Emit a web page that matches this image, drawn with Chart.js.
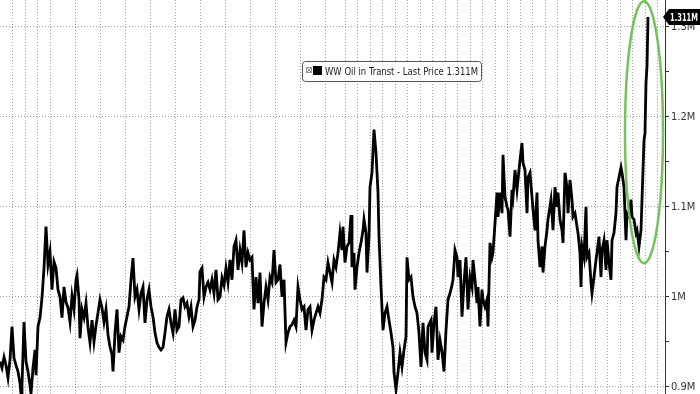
<!DOCTYPE html>
<html>
<head>
<meta charset="utf-8">
<script src="https://cdn.jsdelivr.net/npm/chart.js@4.4.1/dist/chart.umd.min.js"></script>
<style>
  html, body { margin: 0; padding: 0; background: #fff; }
  #wrap { width: 700px; height: 394px; }
</style>
</head>
<body>
<div id="wrap"><canvas id="oilChart" width="700" height="394"></canvas></div>
<script>
// WW oil in transit, thousand barrels
var seriesName = 'WW Oil in Transt - Last Price';
var days = [
  0,2,4,6,8,10,12,14,16,18,20,21,22,24,26,28,30,31,33,35,36,38,40,42,44,46,48,50,52,54,56,58,60,62,64,66,68,70,72,74,76,77,79,80,82,84,86,88,90,92,94,96,98,100,102,104,106,108,110,
  112,113,115,117,119,121,123,125,127,129,131,133,135,137,139,141,143,145,147,149,151,153,155,157,159,161,163,165,167,169,171,173,175,177,179,181,183,185,187,189,191,193,195,197,199,200,202,204,206,208,210,212,214,216,218,220,222,224,
  226,228,230,232,234,236,238,240,242,244,246,248,250,252,254,256,258,260,262,264,266,268,270,272,274,276,278,280,282,284,286,288,290,292,294,296,298,300,302,304,306,308,310,312,314,316,318,320,322,324,326,328,330,332,
  334,336,338,340,342,343,345,347,349,351,352,354,355,357,359,361,363,364,366,367,369,370,372,374,376,378,379,381,383,385,387,389,391,393,394,396,398,400,402,404,406,407,409,411,413,415,417,419,421,423,425,427,428,431,432,434,436,438,440,
  442,444,446,448,450,452,453,455,457,458,460,462,464,466,468,470,472,473,475,477,478,480,482,483,485,487,488,490,492,493,495,497,498,500,502,503,505,507,508,510,512,513,515,517,518,520,522,523,525,527,528,530,532,533,535,537,538,540,542,543,545,547,548,551,
  552,553,555,557,558,560,562,563,565,567,568,570,572,573,575,577,578,580,581,582,584,586,587,589,591,592,594,596,597,599,601,602,604,606,607,609,611,612,614,616,617,619,621,622,624,626,627,629,631,632,634,636,637,639,641,642,644,645,646,647,648
];
var transit = [
  928,921,933,924,910,930,967,932,924,917,904,892,902,972,928,917,902,892,921,941,913,967,977,999,1032,1078,1036,1050,1008,1039,1032,1008,1000,977,1011,994,988,972,1001,986,1019,1024,997,954,986,977,993,966,949,974,950,968,982,997,988,972,986,958,944,
  936,917,960,986,938,956,952,967,978,989,1019,1043,1000,1008,986,1004,1011,971,997,1008,989,978,960,949,944,941,944,960,978,986,971,960,986,963,967,997,999,989,993,978,989,967,974,989,997,1028,1032,1000,1011,1016,1008,1019,1004,1030,997,1000,1021,1013,
  1032,1016,1041,1019,1056,1063,1030,1052,1038,1074,1033,1049,1041,1044,986,1022,993,1027,967,993,1011,997,1022,1016,1052,1016,1019,1036,1000,1019,949,960,967,969,974,967,1011,997,986,989,963,986,989,963,974,982,989,982,997,1022,1019,1038,1027,1016,
  1041,1033,1049,1071,1052,1078,1038,1056,1060,1091,1033,1049,1008,1033,1049,1060,1074,1086,1071,1027,1067,1122,1138,1186,1160,1116,1067,1011,963,982,989,974,960,944,916,897,916,938,922,941,956,1044,1019,1022,1000,989,982,960,922,971,938,930,967,974,938,971,989,930,952,
  939,917,963,997,1004,1013,1019,1052,1044,1022,1041,978,1016,1044,986,1022,1011,1041,1019,993,1011,967,1008,997,989,997,967,1060,1044,1049,1082,1116,1089,1116,1093,1158,1111,1100,1097,1067,1119,1111,1141,1119,1130,1152,1171,1149,1141,1093,1133,1138,1111,1097,1074,1116,1063,1033,1056,1027,1056,1074,1086,1108,
  1093,1074,1122,1100,1116,1086,1074,1060,1138,1122,1093,1130,1108,1089,1093,1078,1071,1049,1011,1056,1044,1100,1044,1049,1016,1004,1022,1041,1049,1067,1022,1052,1063,1030,1063,1038,1019,1063,1071,1093,1122,1133,1144,1138,1122,1063,1093,1089,1108,1089,1086,1071,1074,1056,1074,1108,1174,1182,1238,1256,1311
];
var yTickValues = [900, 1000, 1100, 1200, 1300];
var yTickLabels = ['0.9M', '1M', '1.1M', '1.2M', '1.3M'];
var yMinorTicks = [950, 1050, 1150, 1250];
var gridDays = [12.5, 25, 37.5, 50, 75, 100, 125, 150, 175, 200, 225, 250, 275, 300, 325,
  345, 357.5, 370, 382.5, 395, 407.5, 420, 432.5, 445, 457.5, 470, 482.5, 495, 507.5, 520,
  532.5, 545, 557.5, 570, 582.5, 595, 607.5, 620, 632.5, 645, 657.5];

var narrow = "'Liberation Sans Narrow', 'DejaVu Sans Condensed', 'Liberation Sans', sans-serif";

var points = days.map(function(d, i) { return {x: d, y: transit[i]}; });
var lastValue = transit[transit.length - 1];

function fmtM(v) { return (v / 1000).toFixed(3) + 'M'; }

// draw text squeezed into a max width
function fitText(ctx, txt, x, y, maxW) {
  var w = ctx.measureText(txt).width;
  ctx.save();
  ctx.translate(x, y);
  if (w > maxW) ctx.scale(maxW / w, 1);
  ctx.fillText(txt, 0, 0);
  ctx.restore();
}

var extras = {
  id: 'extras',
  afterDraw: function(chart) {
    var ctx = chart.ctx;
    var xs = chart.scales.x, ys = chart.scales.y;
    ctx.save();

    // green highlight ellipse round the last spike
    var cx = xs.getPixelForValue(644), cy = ys.getPixelForValue(1183);
    ctx.strokeStyle = '#74c25a';
    ctx.lineWidth = 2.5;
    ctx.beginPath();
    ctx.ellipse(cx, cy, 19, 131, 0, 0, Math.PI * 2);
    ctx.stroke();

    // legend box
    var lx = 302, ly = 61, lw = 179, lh = 20;
    ctx.fillStyle = '#fff';
    ctx.strokeStyle = '#555';
    ctx.lineWidth = 1;
    ctx.beginPath();
    ctx.roundRect(lx + 0.5, ly + 0.5, lw, lh, 3);
    ctx.fill();
    ctx.stroke();
    ctx.strokeStyle = '#999';
    ctx.strokeRect(306.5, 67.5, 5, 5);
    ctx.beginPath();
    ctx.moveTo(307, 68); ctx.lineTo(311, 72);
    ctx.moveTo(311, 68); ctx.lineTo(307, 72);
    ctx.stroke();
    ctx.fillStyle = '#000';
    ctx.fillRect(313, 66, 9, 9);
    ctx.font = '11px ' + narrow;
    ctx.fillStyle = '#222';
    ctx.textBaseline = 'middle';
    ctx.textAlign = 'left';
    fitText(ctx, seriesName + ' ' + fmtM(lastValue), 325, ly + lh / 2 + 1, 153);

    // last value tag on the axis
    var ty = ys.getPixelForValue(lastValue);
    ctx.fillStyle = '#000';
    ctx.beginPath();
    ctx.moveTo(663, ty);
    ctx.lineTo(669, ty - 8);
    ctx.lineTo(700, ty - 8);
    ctx.lineTo(700, ty + 8);
    ctx.lineTo(669, ty + 8);
    ctx.closePath();
    ctx.fill();
    ctx.fillStyle = '#fff';
    ctx.font = 'bold 11px ' + narrow;
    ctx.textAlign = 'left';
    fitText(ctx, fmtM(lastValue), 670, ty + 1, 28);
    ctx.restore();
  }
};

var ctx = document.getElementById('oilChart').getContext('2d');
var myChart = new Chart(ctx, {
  type: 'line',
  data: {
    datasets: [{
      label: seriesName,
      data: points,
      borderColor: '#000',
      borderWidth: 2.8,
      pointRadius: 0,
      tension: 0,
      fill: false
    }]
  },
  options: {
    responsive: false,
    animation: false,
    devicePixelRatio: 1,
    layout: { padding: 0 },
    plugins: { legend: { display: false }, tooltip: { enabled: false } },
    scales: {
      x: {
        type: 'linear',
        min: 0,
        max: 665,
        ticks: { display: false },
        grid: { color: '#a0a0a0', lineWidth: 1, drawTicks: false },
        border: { display: false, dash: [1, 2] },
        afterBuildTicks: function(s) { s.ticks = gridDays.map(function(v) { return {value: v}; }); },
        afterFit: function(s) { s.height = 0; }
      },
      y: {
        type: 'linear',
        position: 'right',
        min: 892,
        max: 1330,
        ticks: {
          color: '#333',
          padding: 2,
          font: { size: 11, family: narrow },
          callback: function(v) {
            var i = yTickValues.indexOf(v);
            return i >= 0 ? yTickLabels[i] : '';
          }
        },
        grid: {
          color: function(c) {
            return (c.tick && yTickValues.indexOf(c.tick.value) >= 0) ? '#a0a0a0' : 'rgba(0,0,0,0)';
          },
          tickColor: '#333',
          tickLength: 4
        },
        border: { display: true, color: '#333', width: 1, dash: [1, 2] },
        afterBuildTicks: function(s) {
          s.ticks = yTickValues.concat(yMinorTicks).sort(function(a, b) { return a - b; })
            .map(function(v) { return {value: v}; });
        },
        afterFit: function(s) { s.width = 35; s.paddingTop = 0; s.paddingBottom = 0; }
      }
    }
  },
  plugins: [extras]
});
</script>
</body>
</html>
